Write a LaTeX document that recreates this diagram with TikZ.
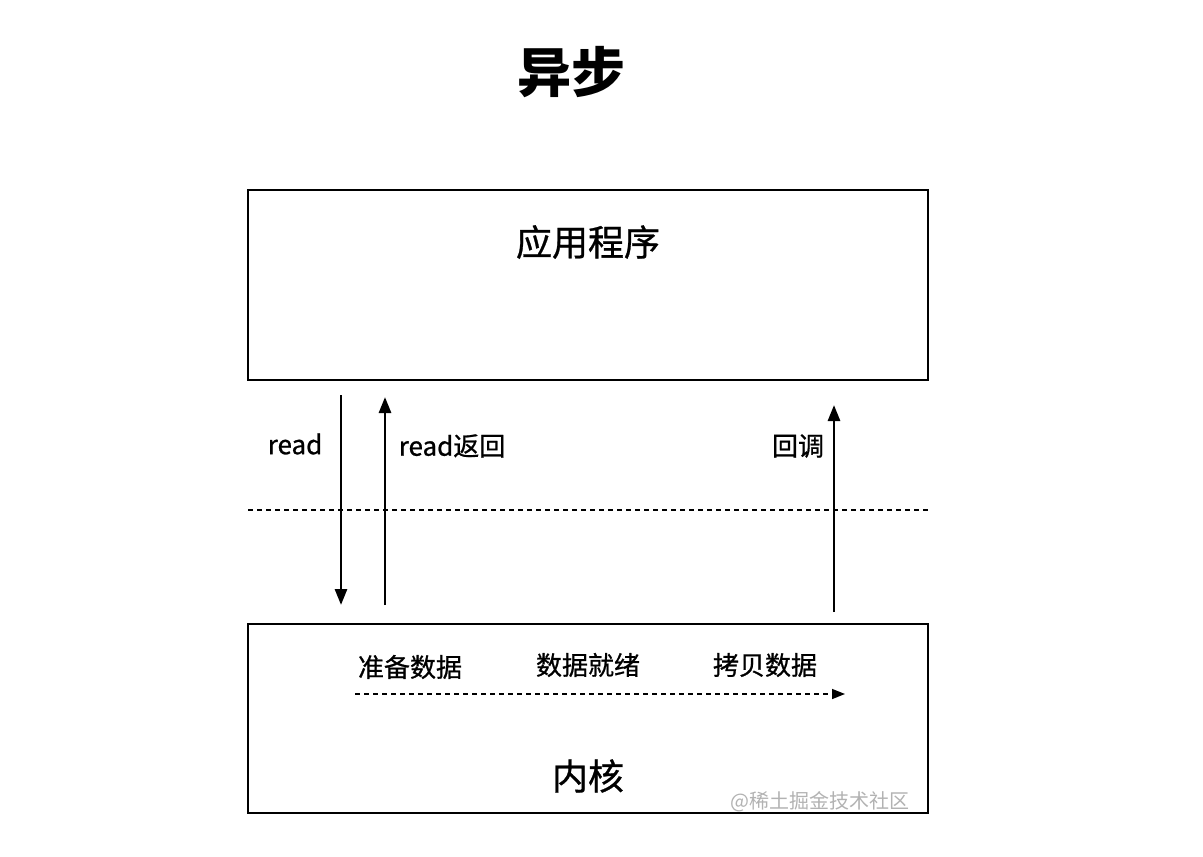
\documentclass[tikz,border=0pt]{standalone}
\usepackage{fontspec}
\setmainfont{Noto Sans CJK SC}
\newfontfamily\medf[FakeBold=0.8]{Noto Sans CJK SC}
\usetikzlibrary{arrows.meta}
\begin{document}
\begin{tikzpicture}[x=1pt,y=-1pt,
  box/.style={draw,line width=2.8pt},
  arr/.style={line width=2.8pt,-{Triangle[length=16pt,width=12pt]}},
  lbl/.style={font=\medf\fontsize{26}{28}\selectfont},
  big/.style={font=\medf\fontsize{36}{38}\selectfont}]
\useasboundingbox (0,0) rectangle (1203,857);
\node[font=\fontsize{54}{56}\selectfont\bfseries] (t) at (571,72) {异步};
\draw[box] (248,190) rectangle (928,380);
\node[big] (app) at (588,242) {应用程序};
\draw[box] (248,624) rectangle (928,813);
\node[big] (k) at (588,776) {内核};
\draw[line width=1.5pt,dash pattern=on 5pt off 4pt] (248,510) -- (928,510);
\coordinate (a1) at (341,395); \coordinate (a2) at (341,605);
\draw[arr] (a1) -- (a2);
\coordinate (b1) at (385,605); \coordinate (b2) at (385,397);
\draw[arr] (b1) -- (b2);
\coordinate (c1) at (834,612); \coordinate (c2) at (834,405);
\draw[arr] (c1) -- (c2);
\node[lbl] (r) at (295,444) {read};
\node[lbl] (rr) at (452,446) {read返回};
\node[lbl] (cb) at (798,446) {回调};
\node[lbl] (p1) at (410,667) {准备数据};
\node[lbl] (p2) at (588,665) {数据就绪};
\node[lbl] (p3) at (765,665) {拷贝数据};
\coordinate (d1) at (355,694); \coordinate (d2) at (845,694);
\draw[line width=1.5pt,dash pattern=on 5pt off 4pt,-{Triangle[length=13pt,width=10pt]}] (d1) -- (d2);
\node[font=\fontsize{20}{22}\selectfont,text=gray!60] (w) at (820,802) {@稀土掘金技术社区};
\end{tikzpicture}
\end{document}
